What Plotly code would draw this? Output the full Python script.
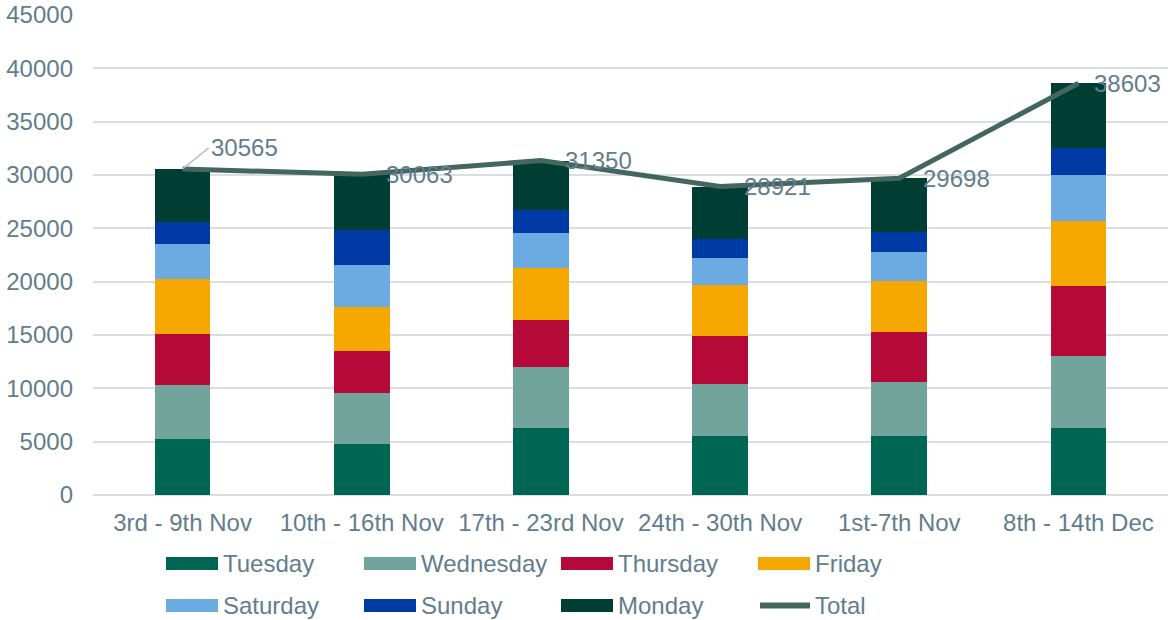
import plotly.graph_objects as go

# weeks on the x axis
weeks = ["3rd - 9th Nov", "10th - 16th Nov", "17th - 23rd Nov",
         "24th - 30th Nov", "1st-7th Nov", "8th - 14th Dec"]

# daily counts per week
tuesday = [5250, 4810, 6280, 5530, 5530, 6250]
wednesday = [5030, 4780, 5750, 4875, 5090, 6750]
thursday = [4840, 3880, 4405, 4530, 4630, 6590]
friday = [5130, 4150, 4845, 4725, 4810, 6065]
saturday = [3310, 3910, 3280, 2560, 2720, 4370]
sunday = [2005, 3280, 2130, 1750, 1845, 2475]
monday = [5000, 5253, 4660, 4951, 5073, 6103]
total = [30565, 30063, 31350, 28921, 29698, 38603]

days = ["Tuesday", "Wednesday", "Thursday", "Friday", "Saturday", "Sunday", "Monday"]
values = [tuesday, wednesday, thursday, friday, saturday, sunday, monday]
colors = ["#006654", "#71a59b", "#b5093a", "#f5a800", "#6cabe2", "#003aa5", "#003d33"]
line_col = "#43665e"
txt_col = "#627d8c"
FONT = "Liberation Sans, Arial, sans-serif"
FS = 24

W, H = 1170, 620
L, R, T, B = 93, 2, 15, 125


def px_x(x):
    return (x - L) / (W - L - R)


def px_y(y):
    return (H - B - y) / (H - B - T)


fig = go.Figure()
for name, vals, col in zip(days, values, colors):
    fig.add_trace(go.Bar(x=weeks, y=vals, name=name, marker_color=col,
                         marker_line_width=0, width=0.31))

fig.add_trace(go.Scatter(x=weeks, y=total, name="Total", mode="lines",
                         line=dict(color=line_col, width=5)))

# data labels for the total line
for i, (wk, v) in enumerate(zip(weeks, total)):
    if i == 0:
        fig.add_annotation(x=wk, y=v, text=str(v), showarrow=True, arrowhead=0,
                           arrowwidth=1.5, arrowcolor="#a9bcc7", ax=26, ay=-21,
                           xanchor="left", yanchor="middle", standoff=0,
                           font=dict(size=FS, color=txt_col, family=FONT))
    else:
        fig.add_annotation(x=wk, y=v, text=str(v), showarrow=False,
                           xanchor="left", yanchor="middle",
                           xshift=14 if i == len(weeks) - 1 else 22,
                           font=dict(size=FS, color=txt_col, family=FONT))

# legend drawn by hand: 2 rows x 4 columns
legend_names = days + ["Total"]
legend_cols = colors + [line_col]
col_x = [166, 364, 561, 758]
row_y = [563.5, 605.5]
for k, (name, col) in enumerate(zip(legend_names, legend_cols)):
    x0 = col_x[k % 4]
    yc = row_y[k // 4]
    if name == "Total":
        fig.add_shape(type="line", xref="paper", yref="paper",
                      x0=px_x(x0 + 2), x1=px_x(x0 + 52), y0=px_y(yc), y1=px_y(yc),
                      line=dict(color=col, width=6))
    else:
        fig.add_shape(type="rect", xref="paper", yref="paper",
                      x0=px_x(x0), x1=px_x(x0 + 52), y0=px_y(yc - 6.5), y1=px_y(yc + 6.5),
                      fillcolor=col, line_width=0)
    fig.add_annotation(xref="paper", yref="paper", x=px_x(x0 + 55), y=px_y(yc),
                       text=name, showarrow=False, xanchor="left", yanchor="middle",
                       font=dict(size=FS, color=txt_col, family=FONT))

fig.update_layout(
    width=W, height=H,
    margin=dict(l=L, r=R, t=T, b=B),
    barmode="stack",
    showlegend=False,
    plot_bgcolor="white",
    paper_bgcolor="white",
    font=dict(family=FONT, size=FS, color=txt_col),
)
fig.update_xaxes(showgrid=False, showline=False, ticks="", ticklabelstandoff=11,
                 automargin=False, tickfont=dict(size=FS, color=txt_col))
fig.update_yaxes(range=[0, 45000], dtick=5000, tickformat="d", showgrid=True,
                 gridcolor="#d9dee3", gridwidth=1.5, zeroline=True,
                 zerolinecolor="#d9dee3", zerolinewidth=1.5,
                 showline=False, ticks="", ticklabelstandoff=19, automargin=False,
                 tickfont=dict(size=FS, color=txt_col))

# page body has a default margin; remove it so the figure sits at (0, 0)
fig.write_html("out.html", config={"displayModeBar": False},
               post_script="document.body.style.margin='0';document.body.style.overflow='hidden';")
